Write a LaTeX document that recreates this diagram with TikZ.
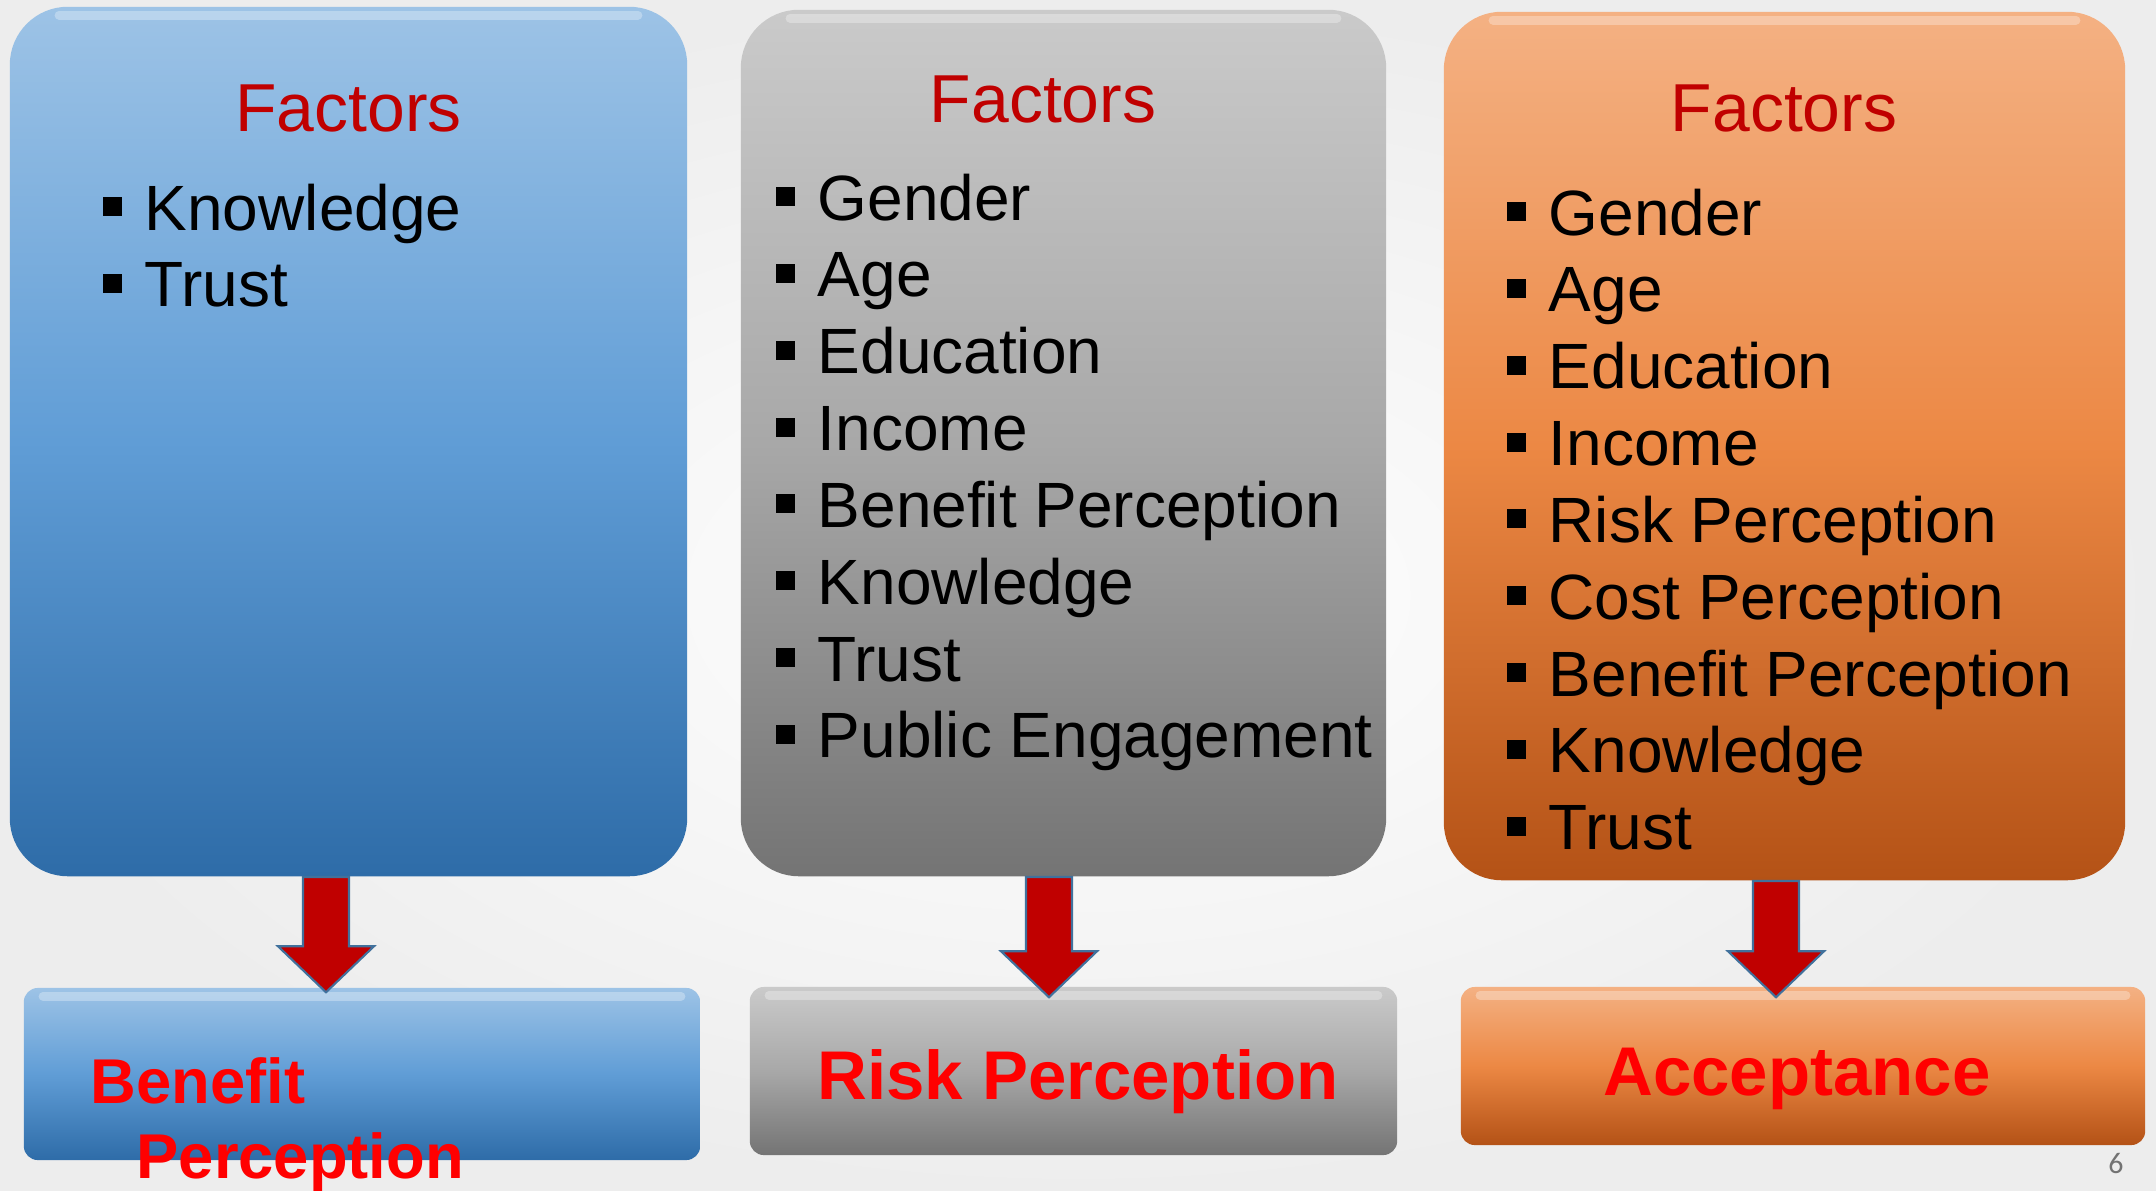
\documentclass[tikz,border=0pt]{standalone}
\usepackage{fontspec}
\setmainfont{Liberation Sans}
\newfontfamily\slidenumfont{Carlito}
\usetikzlibrary{calc}

% palette
\definecolor{facred}{HTML}{C00000}
\definecolor{lblred}{HTML}{FF0000}
\definecolor{arrowedge}{HTML}{41719C}
\definecolor{arrowfill}{HTML}{C00000}
\definecolor{blueTop}{RGB}{157,195,230}
\definecolor{blueMid}{RGB}{96,157,214}
\definecolor{blueBot}{RGB}{46,108,168}
\definecolor{greyTop}{RGB}{202,202,202}
\definecolor{greyMid}{RGB}{168,168,168}
\definecolor{greyBot}{RGB}{116,116,116}
\definecolor{orngTop}{RGB}{244,177,131}
\definecolor{orngMid}{RGB}{236,136,68}
\definecolor{orngBot}{RGB}{180,82,22}

% square list bullet followed by the item text
\newcommand\bul{\makebox[0.42cm][l]{\rule[0.14cm]{0.19cm}{0.19cm}}}

% block arrow from a start point down to a tip
\newcommand\blockarrow[2]{%
  \filldraw[redarrow]
    ($(#1)+(-23,0)$) -- ($(#2)+(-23,-46)$) -- ($(#2)+(-48,-46)$) -- (#2)
    -- ($(#2)+(48,-46)$) -- ($(#2)+(23,-46)$) -- ($(#1)+(23,0)$) -- cycle;}

\begin{document}
\begin{tikzpicture}[x=0.01cm, y=-0.01cm,
  factorbox/.style={rectangle, rounded corners=0.58cm, inner sep=0pt},
  outcomebox/.style={rectangle, rounded corners=0.14cm, inner sep=0pt},
  blueshade/.style={top color=blueTop, bottom color=blueBot, middle color=blueMid},
  greyshade/.style={top color=greyTop, bottom color=greyBot, middle color=greyMid},
  orngshade/.style={top color=orngTop, bottom color=orngBot, middle color=orngMid},
  glint/.style={white, opacity=0.3, line width=0.9mm, line cap=round},
  headtxt/.style={anchor=base, inner sep=0pt, text=facred,
    font=\fontsize{19.3pt}{23pt}\selectfont},
  listtxt/.style={anchor=base west, inner sep=0pt,
    font=\fontsize{18.2pt}{21.85pt}\selectfont},
  lbltxt/.style={anchor=base, inner sep=0pt, text=lblred,
    font=\bfseries\fontsize{19.6pt}{23pt}\selectfont},
  redarrow/.style={fill=arrowfill, draw=arrowedge, line width=0.6pt, line join=miter}
]
\useasboundingbox (0,0) rectangle (2156,1190);
\shade[inner color=white, outer color=black!7] (0,0) rectangle (2156,1190);

% factor panels
\node[factorbox, blueshade, minimum width=6.77cm, minimum height=8.69cm] (f1) at (348.5,441.5) {};
\node[factorbox, greyshade, minimum width=6.45cm, minimum height=8.66cm] (f2) at (1063.5,443) {};
\node[factorbox, orngshade, minimum width=6.81cm, minimum height=8.68cm] (f3) at (1784.5,446) {};

% outcome panels
\node[outcomebox, blueshade, minimum width=6.76cm, minimum height=1.72cm] (o1) at (362,1074) {};
\node[outcomebox, greyshade, minimum width=6.47cm, minimum height=1.68cm] (o2) at (1073.5,1071) {};
\node[outcomebox, orngshade, minimum width=6.84cm, minimum height=1.58cm] (o3) at (1803,1066) {};

% bevel highlights along the upper edges
\foreach \b in {f1,f2,f3} {
  \draw[glint] ($(\b.north west)+(50,9)$) -- ($(\b.north east)+(-50,9)$);
}
\foreach \b in {o1,o2,o3} {
  \draw[glint] ($(\b.north west)+(20,9)$) -- ($(\b.north east)+(-20,9)$);
}

% headings
\node[headtxt] (h1) at (348.5,131) {Factors};
\node[headtxt] (h2) at (1043,122) {Factors};
\node[headtxt] (h3) at (1784,131) {Factors};

% factor lists
\node[listtxt] (l1) at (102,230) {\begin{tabular}[t]{@{}l@{}}
  \bul Knowledge\\ \bul Trust\end{tabular}};
\node[listtxt] (l2) at (775,220) {\begin{tabular}[t]{@{}l@{}}
  \bul Gender\\ \bul Age\\ \bul Education\\ \bul Income\\
  \bul Benefit Perception\\ \bul Knowledge\\ \bul Trust\\
  \bul Public Engagement\end{tabular}};
\node[listtxt] (l3) at (1506,235) {\begin{tabular}[t]{@{}l@{}}
  \bul Gender\\ \bul Age\\ \bul Education\\ \bul Income\\
  \bul Risk Perception\\ \bul Cost Perception\\ \bul Benefit Perception\\
  \bul Knowledge\\ \bul Trust\end{tabular}};

% outcome labels
\node[anchor=base west, inner sep=0pt, text=lblred,
  font=\bfseries\fontsize{18pt}{21.6pt}\selectfont] (t1) at (90,1103)
  {\begin{tabular}[t]{@{}l@{}}Benefit\\ \hspace*{0.46cm}Perception\end{tabular}};
\node[lbltxt] (t2) at (1078,1099) {Risk Perception};
\node[lbltxt] (t3) at (1797,1095) {Acceptance};

% connectors
\coordinate (a1s) at ($(f1.south)+(-22.5,0)$);
\coordinate (a1e) at ($(o1.north)+(-36,5)$);
\coordinate (a2s) at ($(f2.south)+(-14.5,0)$);
\coordinate (a2e) at ($(o2.north)+(-24.5,11)$);
\coordinate (a3s) at ($(f3.south)+(-8.5,0)$);
\coordinate (a3e) at ($(o3.north)+(-27,11)$);
\blockarrow{a1s}{a1e}
\blockarrow{a2s}{a2e}
\blockarrow{a3s}{a3e}

% slide number
\node[anchor=base, inner sep=0pt, text=black!55,
  font=\slidenumfont\fontsize{8.5pt}{10pt}\selectfont] (pg) at (2116,1173) {6};
\end{tikzpicture}
\end{document}
